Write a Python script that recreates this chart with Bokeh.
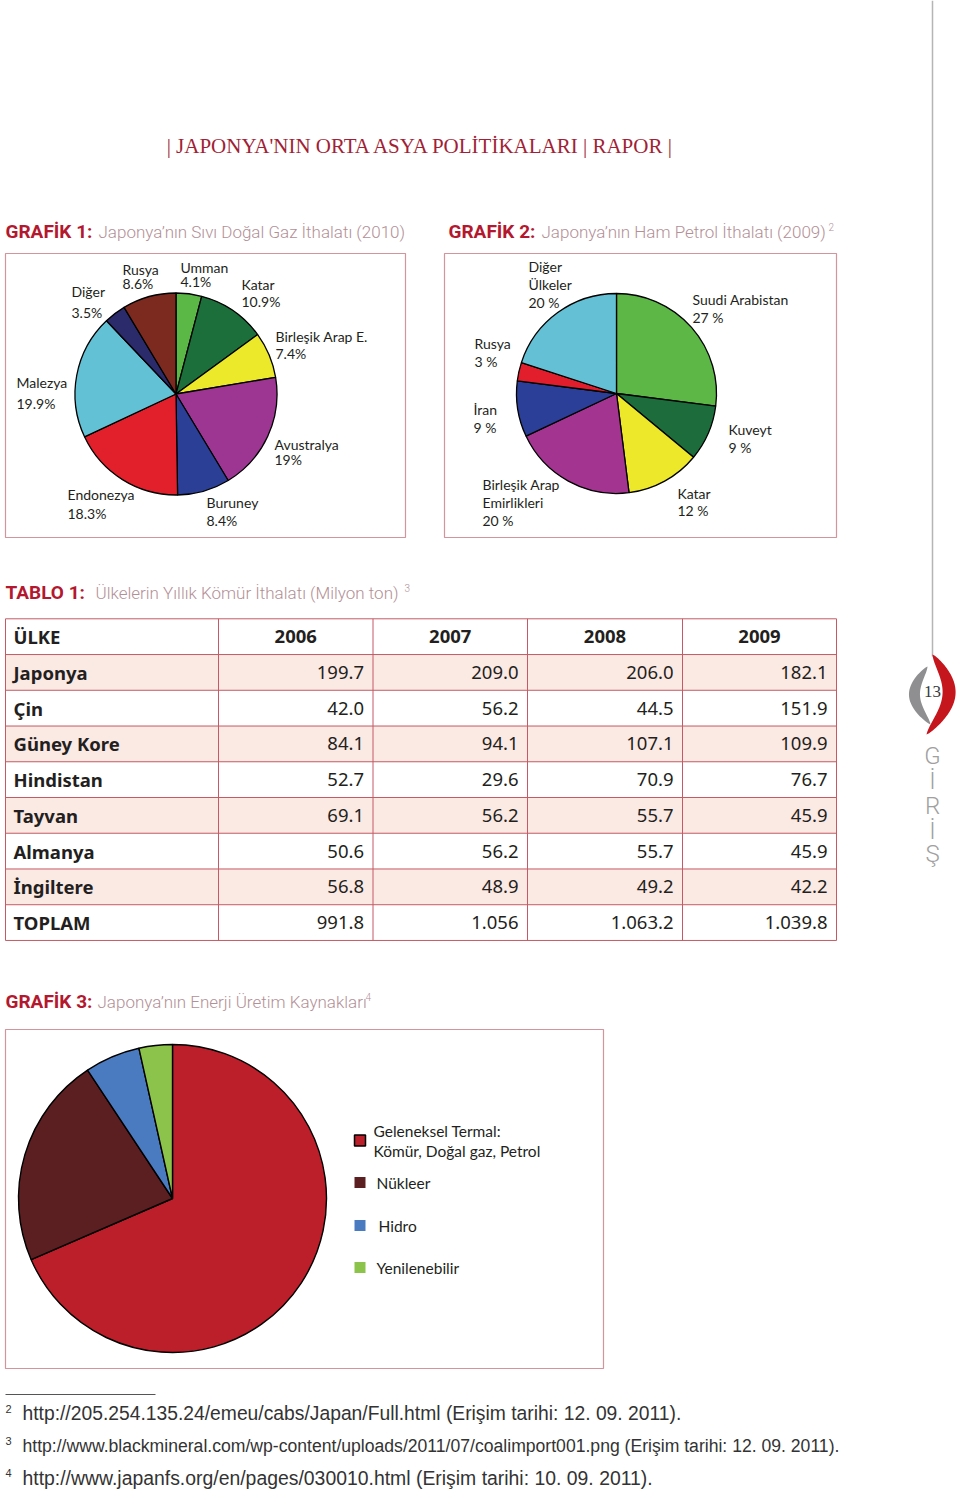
import numpy as np
from bokeh.plotting import figure
from bokeh.models import Range1d
from bokeh.core.properties import value
from bokeh.embed import file_html
from bokeh.resources import INLINE

# ---------------- DATA ----------------
g1_labels = ["Umman", "Katar", "Birleşik Arap E.", "Avustralya", "Buruney",
             "Endonezya", "Malezya", "Diğer", "Rusya"]
g1_values = [4.1, 10.9, 7.4, 19.0, 8.4, 18.3, 19.9, 3.5, 8.6]
g1_colors = ["#5bb847", "#1c6e3a", "#ece92a", "#9d3592", "#2c3f97",
             "#e2202c", "#63c1d6", "#2b2a6b", "#7c2a1f"]

g2_labels = [["Suudi Arabistan"], ["Kuveyt"], ["Katar"], ["Birleşik Arap", "Emirlikleri"],
             ["İran"], ["Rusya"], ["Diğer", "Ülkeler"]]
g2_values = [27, 9, 12, 20, 9, 3, 20]
g2_colors = ["#5cb746", "#1c6d3b", "#ede829", "#a3348f", "#2c3f98", "#e21e2c", "#63c0d5"]

g3_labels = [["Geleneksel Termal:", "Kömür, Doğal gaz, Petrol"], ["Nükleer"], ["Hidro"], ["Yenilenebilir"]]
g3_values = [68.5, 22.2, 5.8, 3.5]
g3_colors = ["#bc1e2a", "#5b1f21", "#4a7bc0", "#8cc34b"]

t_header = ["ÜLKE", "2006", "2007", "2008", "2009"]
t_countries = ["Japonya", "Çin", "Güney Kore", "Hindistan", "Tayvan", "Almanya", "İngiltere", "TOPLAM"]
t_2006 = ["199.7", "42.0", "84.1", "52.7", "69.1", "50.6", "56.8", "991.8"]
t_2007 = ["209.0", "56.2", "94.1", "29.6", "56.2", "56.2", "48.9", "1.056"]
t_2008 = ["206.0", "44.5", "107.1", "70.9", "55.7", "55.7", "49.2", "1.063.2"]
t_2009 = ["182.1", "151.9", "109.9", "76.7", "45.9", "45.9", "42.2", "1.039.8"]

footnotes = [("2", "http://205.254.135.24/emeu/cabs/Japan/Full.html (Erişim tarihi: 12. 09. 2011)."),
             ("3", "http://www.blackmineral.com/wp-content/uploads/2011/07/coalimport001.png (Erişim tarihi: 12. 09. 2011)."),
             ("4", "http://www.japanfs.org/en/pages/030010.html (Erişim tarihi: 10. 09. 2011).")]

# ---------------- STYLE / LAYOUT ----------------
RED = "#b3182f"
SUB = "#b38f96"
BOX = "#d4949b"
INK = "#231f20"
LABEL_FONT = value("Lato")
TITLE_FONT = value("Roboto")
SUB_FONT = value("'Roboto Light', Roboto")
TABLE_FONT = value("Noto Sans")
FOOT_FONT = value("'Liberation Sans Narrow', 'Liberation Sans'")

W, H = 960, 1491
p = figure(width=W, height=H, x_range=Range1d(0, W), y_range=Range1d(H, 0),
           output_backend="svg", toolbar_location=None, min_border=0,
           x_axis_type=None, y_axis_type=None)
p.grid.visible = False
p.outline_line_color = None
p.background_fill_color = "white"
p.border_fill_color = "white"


def txt(x, y, s, size, color=INK, font=LABEL_FONT, style="normal", align="left", baseline="middle"):
    p.text(x=[x], y=[y], text=[s], text_font=font, text_font_size=size, text_color=color,
           text_font_style=style, text_align=align, text_baseline=baseline)


def pie(cx, cy, r, values, colors, line_width=1.3):
    v = np.asarray(values, dtype=float)
    frac = v / v.sum()
    cum = np.concatenate([[0], np.cumsum(frac)])
    start = np.pi / 2 - 2 * np.pi * cum[:-1]
    end = np.pi / 2 - 2 * np.pi * cum[1:]
    p.wedge(x=[cx] * len(v), y=[cy] * len(v), radius=r, start_angle=start, end_angle=end,
            direction="clock", fill_color=colors, line_color="black", line_width=line_width)


def box(x0, y0, x1, y1, color=BOX, lw=1.2):
    p.quad(left=[x0], right=[x1], top=[y0], bottom=[y1], fill_color=None,
           line_color=color, line_width=lw)


def title(x, y, bold, sub, subx, sup=None, supx=None):
    txt(x, y, bold, "19px", color=RED, font=TITLE_FONT, style="bold")
    txt(subx, y, sub, "17px", color=SUB, font=SUB_FONT)
    if sup:
        txt(supx, y - 5, sup, "10px", color=SUB, font=SUB_FONT)


# ---------------- HEADER ----------------
txt(420.5, 145, "| JAPONYA'NIN ORTA ASYA POLİTİKALARI | RAPOR |", "21px", color="#a21f36",
    font=value("Liberation Serif"), align="center")

# right side decoration
p.segment(x0=[932], y0=[0], x1=[932], y1=[656], line_color="#b5b5b5", line_width=1.5)
t = np.linspace(0, 1, 60)
ry_o = 654 + 80 * t
rx_o = 932 + 26 * np.sin(np.pi * t) ** 0.8 - 6 * t
rx_i = 932 + 13 * np.sin(np.pi * t) ** 1.4 - 6 * t
p.patch(np.concatenate([rx_o, rx_i[::-1]]), np.concatenate([ry_o, ry_o[::-1]]),
        fill_color="#c4161c", line_color=None)
gy = 666 + 58 * t
gx_o = 927 - 20 * np.sin(np.pi * t) ** 0.8 + 3 * t
gx_i = 927 - 9 * np.sin(np.pi * t) ** 1.4 + 3 * t
p.patch(np.concatenate([gx_o, gx_i[::-1]]), np.concatenate([gy, gy[::-1]]),
        fill_color="#8f8f91", line_color=None)
txt(932, 691, "13", "17px", color="#3a3a3a", font=value("Liberation Serif"), align="center")
for ch, yy in zip(["G", "İ", "R", "İ", "Ş"], [755, 780, 805, 830, 853]):
    txt(932, yy, ch, "24px", color="#a0a0a0", font=SUB_FONT, align="center")

# ---------------- GRAFİK 1 ----------------
title(5, 231, "GRAFİK 1:", "Japonya’nın Sıvı Doğal Gaz İthalatı (2010)", 98)
box(5, 253, 405, 537)
pie(175.5, 393.5, 101, g1_values, g1_colors)
g1_pos = [(180, 267, 281), (241, 284, 301), (275, 336, 353), (274, 444, 459), (206, 502, 520),
          (67, 494, 513), (16, 382, 403), (71, 291, 312), (122, 269, 283)]
for lab, v, (lx, ny, py) in zip(g1_labels, g1_values, g1_pos):
    txt(lx, ny, lab, "14px")
    txt(lx, py, f"{v:g}%", "14px")

# ---------------- GRAFİK 2 ----------------
title(448, 231, "GRAFİK 2:", "Japonya’nın Ham Petrol İthalatı  (2009)", 541, "2", 828)
box(444, 253, 836, 537)
pie(616, 393, 100, g2_values, g2_colors)
g2_pos = [(692, [299], 317), (728, [429], 447), (677, [493], 510), (482, [484, 502], 520),
          (473, [409], 427), (474, [343], 361), (528, [266, 284], 302)]
for lab, v, (lx, nys, py) in zip(g2_labels, g2_values, g2_pos):
    for line, ny in zip(lab, nys):
        txt(lx, ny, line, "14px")
    txt(lx, py, f"{v:g} %", "14px")

# ---------------- TABLO 1 ----------------
title(5, 592, "TABLO 1:", "Ülkelerin Yıllık Kömür İthalatı (Milyon ton)", 95, "3", 404)
col_x = [5, 218, 372.5, 527, 682, 836]
top, rh = 618.3, 35.74
nrows = len(t_countries) + 1
shade_idx = [i for i in range(len(t_countries)) if i % 2 == 0]
p.quad(left=[col_x[0]] * len(shade_idx), right=[col_x[-1]] * len(shade_idx),
       top=[top + (i + 1) * rh for i in shade_idx], bottom=[top + (i + 2) * rh for i in shade_idx],
       fill_color="#fbe9e4", line_color=None)
hy = [top + k * rh for k in range(nrows + 1)]
p.segment(x0=[col_x[0]] * len(hy), y0=hy, x1=[col_x[-1]] * len(hy), y1=hy,
          line_color="#c45a64", line_width=1)
p.segment(x0=col_x, y0=[top] * len(col_x), x1=col_x, y1=[hy[-1]] * len(col_x),
          line_color="#c45a64", line_width=1)
txt(13, top + rh / 2, t_header[0], "18.5px", font=TABLE_FONT, style="bold")
for j, yr in enumerate(t_header[1:]):
    txt((col_x[j + 1] + col_x[j + 2]) / 2, top + rh / 2, yr, "18.5px", font=TABLE_FONT,
        style="bold", align="center")
cols = [t_2006, t_2007, t_2008, t_2009]
for i, c in enumerate(t_countries):
    yy = top + (i + 1.5) * rh
    txt(13, yy, c, "18.5px", font=TABLE_FONT, style="bold")
    for j, col in enumerate(cols):
        txt(col_x[j + 2] - 9, yy, col[i], "18.5px", font=TABLE_FONT, align="right")

# ---------------- GRAFİK 3 ----------------
title(5, 1001, "GRAFİK 3:", "Japonya’nın Enerji Üretim Kaynakları", 97, "4", 365)
box(5, 1029, 603, 1368)
pie(172, 1198, 154, g3_values, g3_colors, line_width=1.4)
leg_y = [1140, 1182, 1225, 1267]
leg_text_x = [373, 376, 378, 376]
for k, (lab, col) in enumerate(zip(g3_labels, g3_colors)):
    p.rect(x=[359.5], y=[leg_y[k]], width=11, height=11, width_units="screen", height_units="screen",
           fill_color=col, line_color="black" if k == 0 else None, line_width=1.5)
    if len(lab) == 2:
        txt(leg_text_x[k], 1130, lab[0], "15.5px")
        txt(leg_text_x[k], 1150, lab[1], "15.5px")
    else:
        txt(leg_text_x[k], leg_y[k], lab[0], "15.5px")

# ---------------- FOOTNOTES ----------------
p.segment(x0=[5], y0=[1394], x1=[155], y1=[1394], line_color="#555555", line_width=1)
for (num, s), yy, fs in zip(footnotes, [1413, 1445, 1477], ["19.3px", "17.6px", "19.4px"]):
    txt(5, yy - 5, num, "11px", color="#333333", font=FOOT_FONT)
    txt(22, yy, s, fs, color="#333333", font=FOOT_FONT)

open("out.html", "w").write(file_html(p, INLINE))
